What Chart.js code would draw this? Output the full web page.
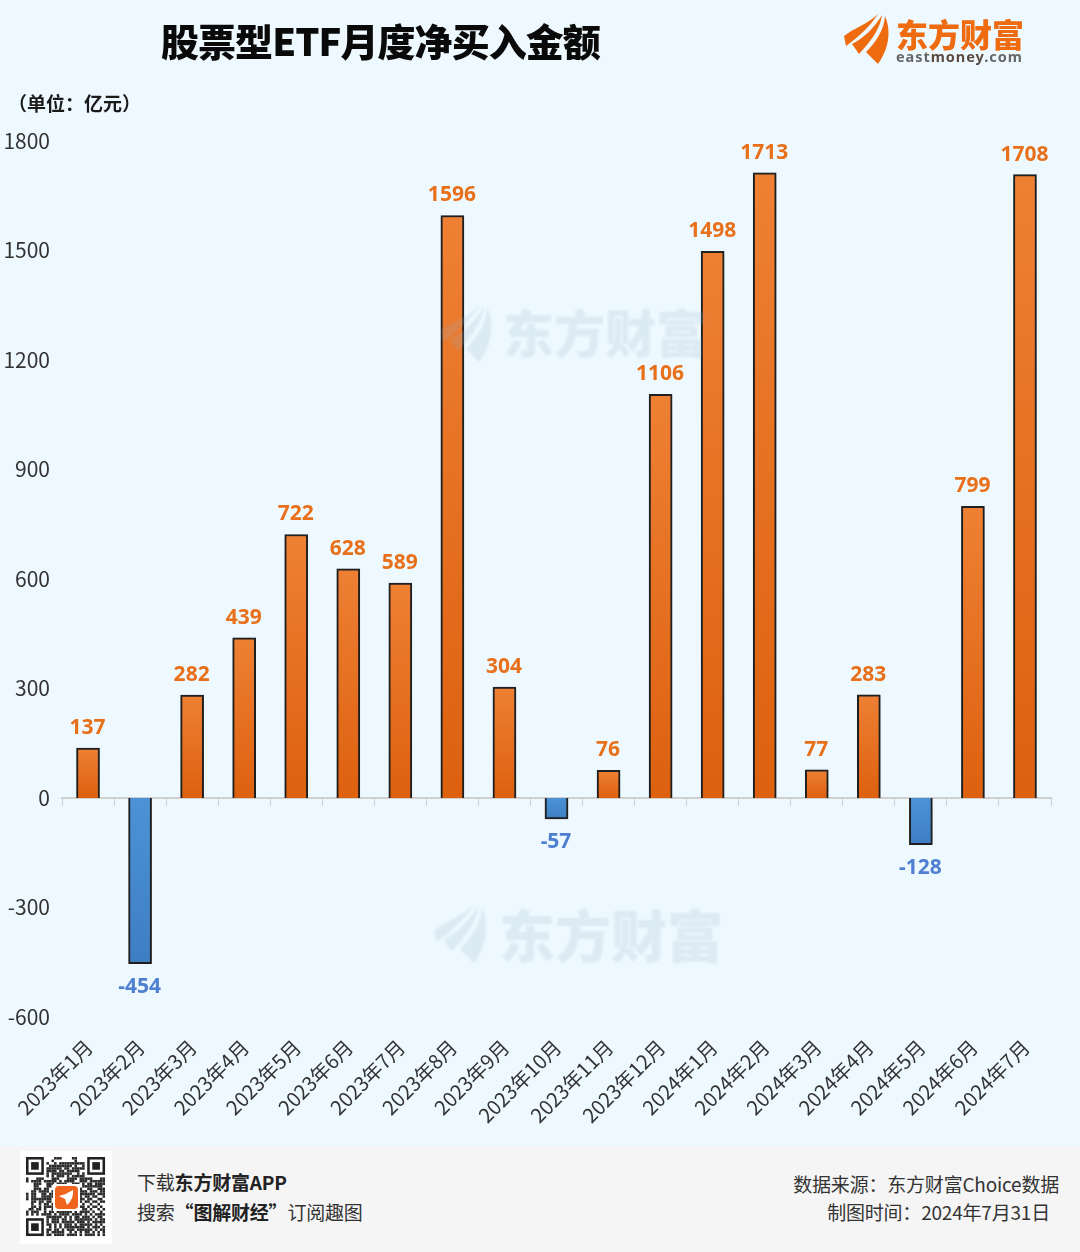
<!DOCTYPE html>
<html lang="zh">
<head>
<meta charset="utf-8">
<title>股票型ETF月度净买入金额</title>
<script src="https://cdn.jsdelivr.net/npm/chart.js@4"></script>
<style>
html, body { margin: 0; padding: 0; }
body { width: 1080px; height: 1252px; position: relative; overflow: hidden; background: #eef9ff; font-family: "Noto Sans CJK SC", "Noto Sans", sans-serif; }
.abs { position: absolute; white-space: nowrap; line-height: 1; }
#chartBox { position: absolute; left: 0; top: 0; width: 1080px; height: 1252px; }
#title { left: 161px; top: 21px; font-size: 38px; font-weight: 900; color: #0a0a0a; letter-spacing: -0.95px; }
#unit { left: 8px; top: 93px; font-size: 19px; font-weight: 700; color: #1a1a1a; }
#footer { position: absolute; left: 0; top: 1146px; width: 1080px; height: 106px; background: #f5f5f5; }
.foot { font-size: 19px; color: #333; letter-spacing: -0.2px; }
.foot b { color: #222; }
.mark { color: rgba(150,175,200,0.2); font-weight: 900; filter: blur(1px); }
</style>
</head>
<body>
<div id="chartBox"><canvas id="myChart" width="1080" height="1252"></canvas></div>

<div class="abs mark" style="left:503px;top:306px;font-size:51px">东方财富</div>
<div class="abs mark" style="left:499px;top:905px;font-size:56px">东方财富</div>
<svg class="abs" style="left:441px;top:304px;filter:blur(1px)" width="52" height="60" viewBox="0 0 46 50"><path fill="rgba(150,175,200,0.2)" d="M0 22 C10 14 24 10 34 0 C26 12 18 20 2 32 Z M8 30 C20 24 30 14 38 1 C36 16 26 28 15 40 Z M22 38 C32 28 40 16 41 2 C48 18 44 36 34 50 Z"/></svg>
<svg class="abs" style="left:434px;top:903px;filter:blur(1px)" width="54" height="62" viewBox="0 0 46 50"><path fill="rgba(150,175,200,0.2)" d="M0 22 C10 14 24 10 34 0 C26 12 18 20 2 32 Z M8 30 C20 24 30 14 38 1 C36 16 26 28 15 40 Z M22 38 C32 28 40 16 41 2 C48 18 44 36 34 50 Z"/></svg>

<div class="abs" id="title">股票型ETF月度净买入金额</div>
<div class="abs" id="unit">（单位：亿元）</div>

<svg class="abs" style="left:844px;top:13px" width="46" height="52" viewBox="0 0 46 50"><path fill="#ee6b10" d="M0 22 C10 14 24 10 34 0 C26 12 18 20 2 32 Z M8 30 C20 24 30 14 38 1 C36 16 26 28 15 40 Z M22 38 C32 28 40 16 41 2 C48 18 44 36 34 50 Z"/></svg>
<div class="abs" style="left:896px;top:17px;font-size:32px;font-weight:900;color:#ee6b10">东方财富</div>
<div class="abs" style="left:896px;top:49px;font-size:14.5px;font-weight:700;color:#666;letter-spacing:.95px;font-family:'Noto Sans',sans-serif">east<span style="color:#5a4a40">money</span>.com</div>

<div id="footer"></div>
<canvas class="abs" id="qr" width="92" height="93" style="left:20px;top:1151px"></canvas>
<div class="abs foot" style="left:137px;top:1172px">下载<b>东方财富APP</b></div>
<div class="abs foot" style="left:137px;top:1202px">搜索<b>“图解财经”</b>订阅趣图</div>
<div class="abs foot" style="right:21px;top:1174px">数据来源：东方财富Choice数据</div>
<div class="abs foot" style="right:30px;top:1202px">制图时间：2024年7月31日</div>

<script>
var months = ["2023年1月", "2023年2月", "2023年3月", "2023年4月", "2023年5月", "2023年6月", "2023年7月", "2023年8月", "2023年9月", "2023年10月", "2023年11月", "2023年12月", "2024年1月", "2024年2月", "2024年3月", "2024年4月", "2024年5月", "2024年6月", "2024年7月"];
var netBuy = [137, -454, 282, 439, 722, 628, 589, 1596, 304, -57, 76, 1106, 1498, 1713, 77, 283, -128, 799, 1708];
var yMin = -600;
var yMax = 1800;
var yStep = 300;

var orange = ["#ee8034", "#dd610f"];
var blue = ["#4b93d6", "#3e7ec2"];
var orangeText = "#e8701a";
var blueText = "#4f7fd0";
var cjkFont = "'Noto Sans CJK SC', 'Noto Sans', sans-serif";
var latinFont = "'Noto Sans', 'Noto Sans CJK SC', sans-serif";

// fill each bar from its top to the zero line
function barFill(context) {
    var chart = context.chart;
    var v = context.raw;
    var cols = v < 0 ? blue : orange;
    if (!chart.chartArea) {
        return cols[0];
    }
    var y = chart.scales.y;
    var y0 = v < 0 ? y.getPixelForValue(0) : y.getPixelForValue(v);
    var y1 = v < 0 ? y.getPixelForValue(v) : y.getPixelForValue(0);
    var g = chart.ctx.createLinearGradient(0, y0, 0, y1);
    g.addColorStop(0, cols[0]);
    g.addColorStop(1, cols[1]);
    return g;
}

var barExtras = {
    id: "barExtras",
    beforeDatasetsDraw: function (chart) {
        var ctx = chart.ctx;
        ctx.save();
        ctx.shadowColor = "rgba(0,0,0,0.28)";
        ctx.shadowBlur = 6;
        ctx.shadowOffsetX = 0;
        ctx.shadowOffsetY = 1;
    },
    afterDatasetsDraw: function (chart) {
        var ctx = chart.ctx;
        ctx.restore();
        // value labels
        var meta = chart.getDatasetMeta(0);
        ctx.save();
        ctx.font = "700 21px " + latinFont;
        ctx.textAlign = "center";
        ctx.textBaseline = "middle";
        meta.data.forEach(function (bar, i) {
            var v = netBuy[i];
            ctx.fillStyle = v < 0 ? blueText : orangeText;
            ctx.fillText(String(v), bar.x - 0.5, v < 0 ? bar.y + 23 : bar.y - 20);
        });
        ctx.restore();
    }
};

new Chart("myChart", {
    type: "bar",
    data: {
        labels: months,
        datasets: [
            {
                data: netBuy,
                backgroundColor: barFill,
                borderColor: "#222222",
                borderWidth: 2,
                borderSkipped: "start",
                barThickness: 23,
            },
        ],
    },
    options: {
        responsive: false,
        animation: false,
        layout: { padding: { left: 0, right: 29, top: 141, bottom: 0 } },
        plugins: { legend: { display: false }, title: { display: false }, tooltip: { enabled: false } },
        scales: {
            y: {
                min: yMin,
                max: yMax,
                grid: { display: false },
                border: { display: false },
                ticks: {
                    stepSize: yStep,
                    padding: 4,
                    color: "#333333",
                    font: { size: 21, family: cjkFont },
                    callback: function (v) { return String(v); },
                },
                afterFit: function (scale) { scale.width = 62; },
            },
            x: {
                grid: { display: false },
                border: { display: false },
                ticks: { minRotation: 45, maxRotation: 45, autoSkip: false, padding: 10, labelOffset: 1, color: "#333333", font: { size: 20, family: cjkFont } },
                afterFit: function (scale) { scale.height = 235; },
            },
            xZero: {
                type: "category",
                axis: "x",
                labels: months,
                offset: true,
                position: { y: 0 },
                grid: { display: true, drawOnChartArea: false, drawTicks: true, tickLength: 7, tickColor: "#cfcfcf", offset: true },
                border: { display: true, color: "#cfcfcf", width: 2 },
                ticks: { display: false },
            },
        },
    },
    plugins: [barExtras],
});

// QR-like block for the footer, fixed pattern from a small hash
var qr = document.getElementById("qr").getContext("2d");
qr.fillStyle = "#ffffff";
qr.fillRect(0, 0, 92, 93);
var cell = 2.55;
var n = 31;
function finder(cx, cy) {
    qr.fillStyle = "#222";
    qr.fillRect(6 + cx * cell, 6 + cy * cell, 7 * cell, 7 * cell);
    qr.fillStyle = "#fff";
    qr.fillRect(6 + (cx + 1) * cell, 6 + (cy + 1) * cell, 5 * cell, 5 * cell);
    qr.fillStyle = "#222";
    qr.fillRect(6 + (cx + 2) * cell, 6 + (cy + 2) * cell, 3 * cell, 3 * cell);
}
for (var r = 0; r < n; r++) {
    for (var c = 0; c < n; c++) {
        var inFinder = (r < 8 && c < 8) || (r < 8 && c > n - 9) || (r > n - 9 && c < 8);
        var h = ((r * 73856093) ^ (c * 19349663) ^ (r * c * 83492791)) >>> 0;
        if (!inFinder && (h >> 7) % 5 < 2) {
            qr.fillStyle = "#2a2a2a";
            qr.fillRect(6 + c * cell, 6 + r * cell, cell, cell);
        }
    }
}
finder(0, 0);
finder(n - 7, 0);
finder(0, n - 7);
qr.fillStyle = "#fff";
qr.fillRect(33, 33, 27, 27);
qr.fillStyle = "#f0641e";
qr.beginPath();
qr.roundRect(35, 35, 23, 23, 4);
qr.fill();
qr.fillStyle = "#fff";
qr.beginPath();
qr.moveTo(39, 45);
qr.quadraticCurveTo(47, 43, 53, 39);
qr.quadraticCurveTo(54, 48, 47, 54);
qr.lineTo(45, 48);
qr.closePath();
qr.fill();
</script>
</body>
</html>
